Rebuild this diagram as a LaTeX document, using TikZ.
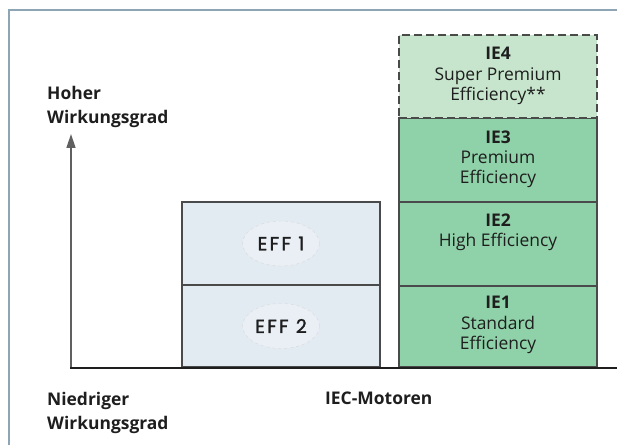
\documentclass[tikz,border=0pt]{standalone}
\usepackage{fontspec}
\setmainfont{Open Sans}
\newfontfamily\efffont[FakeBold=1.5,LetterSpace=12]{Poppins}
\usetikzlibrary{
    positioning,
    arrows.meta,
    shapes.geometric
}
\definecolor{framecol}{HTML}{8DA5B5}
\definecolor{boxline}{HTML}{4A4A4A}
\definecolor{axisgray}{HTML}{606060}
\definecolor{effblue}{HTML}{E3EBF2}
\definecolor{iegreen}{HTML}{8FD1A8}
\definecolor{iefour}{HTML}{C6E5CC}
\definecolor{txtcol}{HTML}{1E1E1E}

\begin{document}
\begin{tikzpicture}[x=1bp,y=-1bp,
    box/.style={draw=boxline,line width=1.4bp,minimum width=198bp,inner sep=0pt},
    effbox/.style={box,fill=effblue},
    iebox/.style={box,fill=iegreen},
    lbl/.style={text=txtcol,align=center,inner sep=0pt,font=\fontsize{17.5}{20.5}\selectfont},
    axlbl/.style={text=txtcol,align=left,inner sep=0pt,font=\fontsize{17.5}{20.5}\selectfont\bfseries},
    effoval/.style={ellipse,draw=gray!30,dashed,line width=0.4bp,fill=effblue!80!white,
        minimum width=77bp,minimum height=45bp,inner sep=1bp,text=txtcol,font=\efffont\fontsize{19}{20}\selectfont}
]
%\draw [help lines](0,0) grid[step=50] (617,445);
\useasboundingbox (0,0) rectangle (617,445);
% frame
\draw [framecol,line width=2.6bp] (9,445) -- (9,10) -- (617,10);
% EFF boxes
\node [effbox,minimum height=82bp] (eff2) at (281,326) {};
\node [effbox,minimum height=83bp] (eff1) at (281,243.5) {};
\node [effoval] (o1) at (eff1.center) {EFF 1};
\node [effoval] (o2) at (eff2.center) {EFF 2};
% IE boxes
\node [iebox,minimum height=81bp] (ie1) at (498,326.5) {};
\node [iebox,minimum height=84bp] (ie2) at (498,244) {};
\node [iebox,minimum height=84bp] (ie3) at (498,160) {};
\node [box,fill=iefour,dash pattern=on 8bp off 4bp,minimum height=83bp] (ie4) at (498,76.5) {};
\node [lbl,below=11bp of ie1.north] (t1) {\textbf{IE1}\\Standard\\Efficiency};
\node [lbl,below=12bp of ie2.north] (t2) {\textbf{IE2}\\High Efficiency};
\node [lbl,below=13bp of ie3.north] (t3) {\textbf{IE3}\\Premium\\Efficiency};
\node [lbl,below=13bp of ie4.north] (t4) {\textbf{IE4}\\Super Premium\\Efficiency**};
% axes
\coordinate (O) at (71,368);
\coordinate (Y) at (71,134);
\coordinate (X) at (617,368);
\draw [-{Triangle[length=14bp,width=9bp]},axisgray,line width=1.5bp] (O) -- (Y);
\draw [txtcol,line width=1.5bp] (70,368) -- (X);
\node [axlbl,anchor=north west] (hoch) at (47,86) {Hoher\\[4bp]Wirkungsgrad};
\node [axlbl,anchor=north west] (nied) at (47,392) {Niedriger\\[4bp]Wirkungsgrad};
\node [axlbl,anchor=north west] (iec) at (325,392) {IEC-Motoren};
\end{tikzpicture}
\end{document}
